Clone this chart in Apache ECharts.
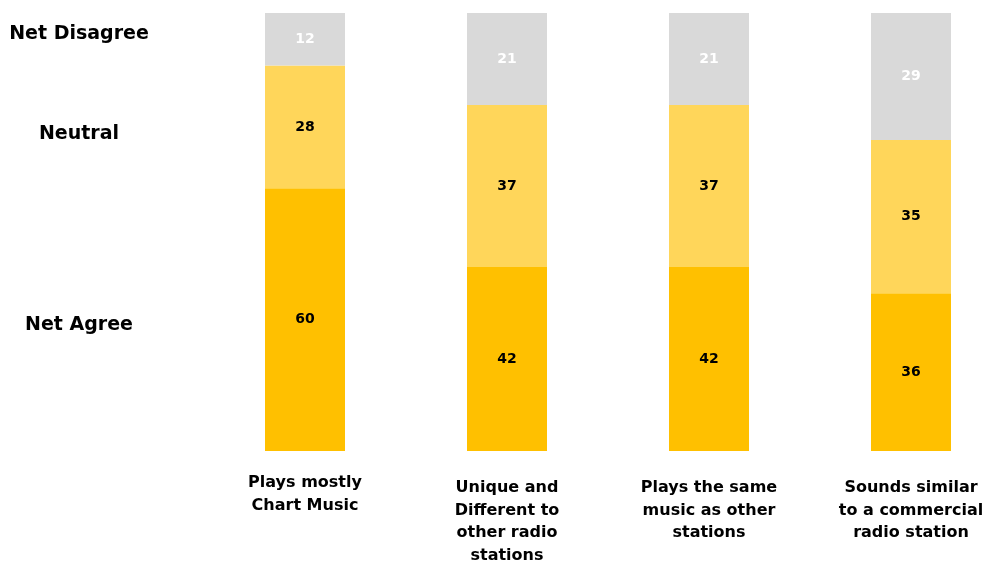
<!DOCTYPE html>
<html>
<head>
<meta charset="utf-8">
<script src="https://cdn.jsdelivr.net/npm/echarts@6/dist/echarts.min.js"></script>
<style>
  html, body { margin: 0; padding: 0; background: #fff; }
  #chart { width: 991px; height: 564px; }
</style>
</head>
<body>
<div id="chart"></div>
<script>
// Survey statements and the share of respondents in each answer group (%)
const categories = [
  'Plays mostly\nChart Music',
  'Unique and\nDifferent to\nother radio\nstations',
  'Plays the same\nmusic as other\nstations',
  'Sounds similar\nto a commercial\nradio station'
];
const netAgree    = [60, 42, 42, 36];
const neutral     = [28, 37, 37, 35];
const netDisagree = [12, 21, 21, 29];
const groupNames  = ['Net Agree', 'Neutral', 'Net Disagree'];

const FONT = 'DejaVu Sans';
const chart = echarts.init(document.getElementById('chart'), null, { renderer: 'canvas' });

function seg(name, data, color, labelColor) {
  return {
    name: name,
    type: 'bar',
    stack: 'total',
    barWidth: 80,
    data: data,
    itemStyle: { color: color },
    label: {
      show: true,
      position: 'inside',
      color: labelColor,
      fontFamily: FONT,
      fontWeight: 'bold',
      fontSize: 14
    },
    emphasis: { disabled: true }
  };
}

const option = {
  animation: false,
  backgroundColor: '#ffffff',
  grid: { left: 204, top: 13, width: 808, height: 438, outerBoundsMode: 'none', containLabel: false },
  xAxis: {
    type: 'category',
    data: categories.map((c, i) => ({
      value: c,
      textStyle: { padding: i === 0 ? [0, 0, 0, 0] : [5, 0, 0, 0] }
    })),
    axisLine: { show: false },
    axisTick: { show: false },
    axisLabel: {
      interval: 0,
      margin: 21,
      verticalAlign: 'top',
      lineHeight: 22.5,
      color: '#000',
      fontFamily: FONT,
      fontWeight: 'bold',
      fontSize: 16
    }
  },
  yAxis: {
    type: 'value',
    min: 0,
    max: 100,
    show: false
  },
  series: [
    seg(groupNames[0], netAgree, '#FFC000', '#000'),
    seg(groupNames[1], neutral, '#FFD65A', '#000'),
    seg(groupNames[2], netDisagree, '#D9D9D9', '#fff')
  ]
};

chart.setOption(option);

// Group names at the left, level with the middle of each segment of the first bar
const mids = [
  netAgree[0] / 2,
  netAgree[0] + neutral[0] / 2,
  netAgree[0] + neutral[0] + netDisagree[0] / 2
];
const offsets = [5, 7, -5];
chart.setOption({
  graphic: groupNames.map((n, i) => ({
    type: 'text',
    x: 79,
    y: chart.convertToPixel({ yAxisIndex: 0 }, mids[i]) + offsets[i],
    style: {
      text: n,
      fill: '#000',
      font: 'bold 19px "' + FONT + '"',
      textAlign: 'center',
      textVerticalAlign: 'middle'
    }
  }))
});
</script>
</body>
</html>
